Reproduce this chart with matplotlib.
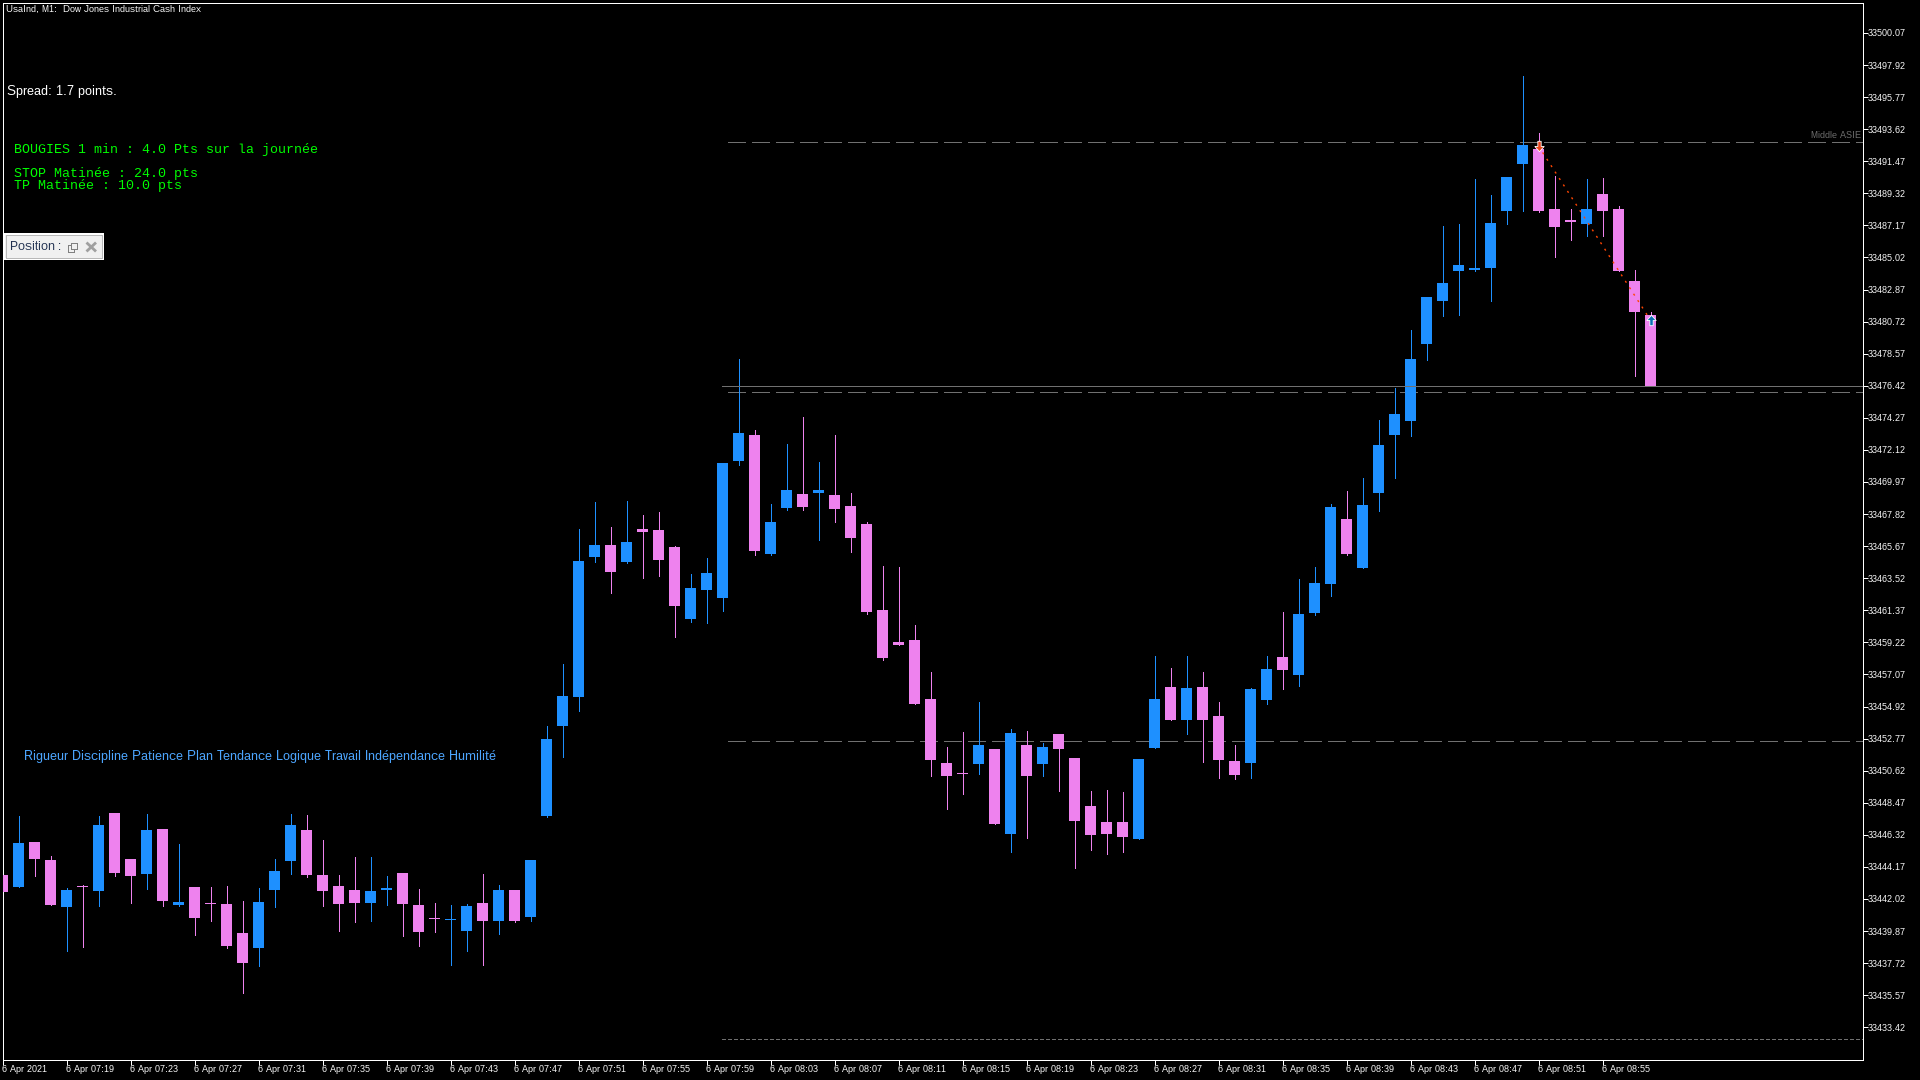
import matplotlib
matplotlib.use("Agg")
import matplotlib.pyplot as plt
from matplotlib.patches import Rectangle
from matplotlib.lines import Line2D
from matplotlib.path import Path
from matplotlib.transforms import Affine2D
import numpy as np

plt.rcParams["text.hinting"] = "native"
plt.rcParams["text.hinting_factor"] = 1

opens = [33443.63,33442.83,33445.84,33444.64,33441.49,33442.90,33442.56,33447.79,33444.70,33443.70,
33446.72,33441.62,33442.83,33441.76,33441.69,33439.75,33438.74,33442.63,33444.57,33446.65,
33443.63,33442.90,33442.63,33441.76,33442.63,33443.77,33441.62,33440.73,33440.64,33439.88,
33441.76,33440.55,33442.63,33440.82,33447.59,33453.62,33455.56,33464.95,33465.76,33464.60,
33466.82,33466.75,33465.62,33460.80,33462.73,33462.20,33471.39,33473.12,33465.16,33468.23,
33469.17,33469.24,33469.10,33468.37,33467.17,33461.40,33459.25,33459.39,33455.44,33451.15,
33450.48,33451.08,33452.07,33446.39,33452.35,33451.08,33453.09,33451.47,33448.26,33447.18,
33447.18,33446.05,33452.14,33456.23,33454.02,33456.23,33454.29,33451.27,33451.14,33455.36,
33458.24,33457.03,33461.19,33463.13,33467.49,33464.20,33469.23,33473.12,33474.06,33479.22,
33482.10,33484.11,33484.18,33484.31,33488.13,33491.28,33492.29,33488.26,33487.53,33487.26,
33489.27,33488.26,33483.44,33481.16]
closes = [33442.49,33445.78,33444.70,33441.62,33442.63,33442.85,33446.98,33443.77,33443.57,33446.65,
33441.89,33441.82,33440.75,33441.71,33438.87,33437.73,33441.82,33443.90,33446.98,33443.63,
33442.56,33441.69,33441.76,33442.56,33442.76,33441.69,33439.81,33440.68,33440.68,33441.55,
33440.55,33442.63,33440.55,33444.64,33452.74,33455.63,33464.67,33465.76,33463.93,33465.94,
33466.61,33464.74,33461.67,33462.87,33463.86,33471.25,33473.26,33465.34,33467.30,33469.43,
33468.30,33469.43,33468.16,33466.22,33461.26,33458.19,33459.04,33455.09,33451.33,33450.27,
33450.43,33452.35,33447.06,33453.16,33450.27,33452.21,33452.07,33447.25,33446.32,33446.39,
33446.19,33451.40,33455.44,33454.03,33456.16,33454.02,33451.34,33450.33,33456.10,33457.44,
33457.37,33461.12,33463.20,33468.29,33465.14,33468.42,33472.44,33474.52,33478.21,33482.37,
33483.30,33484.51,33484.31,33487.33,33490.41,33492.55,33488.13,33487.06,33487.39,33488.26,
33488.13,33484.11,33481.36,33476.40]
highs = [33443.63,33447.59,33445.84,33444.91,33442.76,33442.96,33447.59,33447.79,33444.70,33447.72,
33446.72,33445.71,33442.83,33442.83,33442.90,33441.89,33442.76,33444.70,33447.72,33447.65,
33445.98,33443.63,33444.84,33444.84,33443.57,33443.77,33442.69,33441.76,33441.62,33441.69,
33443.70,33442.96,33442.63,33444.64,33453.62,33457.77,33466.82,33468.64,33466.96,33468.71,
33467.77,33467.97,33465.69,33463.82,33464.88,33471.25,33478.22,33473.47,33468.50,33472.52,
33474.32,33471.32,33473.12,33469.24,33467.30,33464.35,33464.28,33460.38,33457.24,33452.21,
33453.23,33455.23,33452.07,33453.41,33453.29,33452.49,33453.09,33451.47,33449.26,33449.32,
33449.21,33451.40,33458.30,33457.52,33458.31,33457.23,33455.22,33452.34,33456.16,33458.31,
33461.26,33463.46,33464.27,33468.49,33469.36,33470.23,33474.12,33476.27,33480.15,33482.37,
33487.12,33487.26,33490.27,33489.20,33490.41,33497.18,33493.36,33490.48,33488.26,33490.27,
33490.34,33488.47,33484.18,33481.36]
lows = [33442.49,33442.83,33443.57,33441.62,33438.54,33438.81,33441.55,33443.57,33441.76,33442.69,
33441.55,33441.55,33439.61,33440.55,33438.74,33435.72,33437.53,33441.49,33443.70,33443.50,
33441.55,33439.88,33440.48,33440.55,33441.62,33439.54,33438.87,33439.81,33437.60,33438.54,
33437.60,33439.68,33440.48,33440.55,33447.52,33451.54,33454.63,33464.60,33462.53,33464.53,
33463.54,33463.68,33459.60,33460.59,33460.52,33461.33,33471.11,33465.09,33465.09,33468.09,
33468.09,33466.08,33467.30,33465.27,33461.12,33458.05,33459.04,33455.09,33450.27,33448.06,
33449.07,33450.41,33447.06,33445.17,33446.12,33450.27,33449.26,33444.11,33445.31,33445.03,
33445.17,33446.05,33452.14,33454.03,33453.08,33451.20,33450.13,33450.06,33450.13,33455.09,
33456.10,33456.30,33461.05,33462.32,33465.07,33464.20,33468.02,33470.24,33473.05,33478.14,
33481.09,33481.16,33484.11,33482.10,33487.26,33488.13,33488.06,33485.05,33486.19,33486.45,
33486.45,33484.11,33477.07,33476.40]

y_tick_values = [33433.42,33435.57,33437.72,33439.87,33442.02,33444.17,33446.32,33448.47,33450.62,33452.77,
33454.92,33457.07,33459.22,33461.37,33463.52,33465.67,33467.82,33469.97,33472.12,33474.27,
33476.42,33478.57,33480.72,33482.87,33485.02,33487.17,33489.32,33491.47,33493.62,33495.77,
33497.92,33500.07]
x_tick_bars = list(range(0, 101, 4))
x_tick_labels = ["6 Apr 2021","6 Apr 07:19","6 Apr 07:23","6 Apr 07:27","6 Apr 07:31","6 Apr 07:35",
"6 Apr 07:39","6 Apr 07:43","6 Apr 07:47","6 Apr 07:51","6 Apr 07:55","6 Apr 07:59","6 Apr 08:03",
"6 Apr 08:07","6 Apr 08:11","6 Apr 08:15","6 Apr 08:19","6 Apr 08:23","6 Apr 08:27","6 Apr 08:31",
"6 Apr 08:35","6 Apr 08:39","6 Apr 08:43","6 Apr 08:47","6 Apr 08:51","6 Apr 08:55"]

dashed_levels = [33492.74, 33475.98, 33452.60]
bid_level = 33476.42
dotted_level = 33432.62
trade_bars = [96, 103]
trade_prices = [33492.49, 33480.82]

BULL = "#1E90FF"
BEAR = "#EE82EE"
GREY = "#707070"
PX = 0.72
SANS = "Liberation Sans"
MONO = "Liberation Mono"

fig = plt.figure(figsize=(19.2, 10.8), dpi=100, facecolor="black")
ax = fig.add_axes([2.5/1920, (1080-1059.5)/1080, 1860/1920, 1057/1080], facecolor="black")
ax.set_xlim(0, 116.25)
ax.set_ylim(33431.26, 33502.11)

# level lines, behind the candles
for lvl in dashed_levels:
    ax.plot([45.35, 116.25], [lvl, lvl], color=GREY, lw=PX, dashes=(18, 6),
            dash_capstyle="butt", zorder=1, antialiased=False)
ax.plot([44.98, 116.25], [dotted_level, dotted_level], color=GREY, lw=PX, dashes=(3, 2.4),
        dash_capstyle="butt", zorder=1, antialiased=False)

x = np.arange(len(opens))
o, h, l, c = map(np.array, (opens, highs, lows, closes))
colors = np.where(c >= o, BULL, BEAR)
ax.vlines(x, l, h, colors=colors, lw=PX, zorder=2, antialiased=False)
ax.bar(x, np.abs(c-o), bottom=np.minimum(o, c), width=11/16, color=colors, lw=0, zorder=3, antialiased=False)

ax.plot([44.98, 116.25], [bid_level, bid_level], color=GREY, lw=PX, zorder=4, antialiased=False)
ax.plot(trade_bars, trade_prices, color="#FF4500", lw=1.0, dashes=(1.5, 4), dash_capstyle="butt", zorder=5)

down = Path([(-.45,0),(-.16,0),(-.16,.5),(.16,.5),(.16,0),(.45,0),(0,-.5),(-.45,0)])
up = Path([(-.45,0),(-.16,0),(-.16,-.5),(.16,-.5),(.16,0),(.45,0),(0,.5),(-.45,0)])
ax.plot(trade_bars[0], trade_prices[0], marker=down, ms=7.5, mfc="#E8431A", mec="white", mew=0.6, zorder=6, ls="none")
ax.plot(trade_bars[1], trade_prices[1], marker=up, ms=7.5, mfc="#0A6EB4", mec="white", mew=0.6, zorder=6, ls="none")

for s in ax.spines.values():
    s.set_color("white")
    s.set_linewidth(PX)
ax.yaxis.tick_right()
ax.set_yticks(y_tick_values)
ax.set_yticklabels([f"{v:.2f}" for v in y_tick_values], fontfamily=SANS, fontsize=6.4, color="white")
ax.set_xticks(x_tick_bars)
ax.set_xticklabels(x_tick_labels, fontfamily=SANS, fontsize=6.3, color="white", ha="left")
ax.tick_params(axis="y", length=3.6, width=PX, color="white", pad=0.3)
ax.tick_params(axis="x", length=3.6, width=PX, color="white", pad=0.5)

tf = Affine2D().scale(1, -1).translate(0, 1080)
def label(px, py, s, color="white", size=7, family=SANS, ha="left"):
    fig.text(px, py, s, transform=tf, color=color, fontsize=size, family=family, ha=ha, va="center")

label(6.5, 9.5, "UsaInd, M1:  Dow Jones Industrial Cash Index", size=6.3)
label(7, 92, "Spread: 1.7 points.", size=9.4)
label(13.5, 150, "BOUGIES 1 min : 4.0 Pts sur la journée", color="#00FF00", size=9.6, family=MONO)
label(13.5, 174, "STOP Matinée : 24.0 pts", color="#00FF00", size=9.6, family=MONO)
label(13.5, 186, "TP Matinée : 10.0 pts", color="#00FF00", size=9.6, family=MONO)
label(24, 756.5, "Rigueur Discipline Patience Plan Tendance Logique Travail Indépendance Humilité", color="#4DA6FF", size=9.3)
label(1861, 135.7, "Middle ASIE", color=GREY, size=6.5, ha="right")

fig.add_artist(Rectangle((4, 233.5), 99, 25.5, transform=tf, fc="#F0F0F0", ec="white", lw=1.4, antialiased=False))
fig.add_artist(Rectangle((5.5, 235), 96, 22.5, transform=tf, fc="#F0F0F0", ec="#B8B8B8", lw=PX, antialiased=False))
label(10, 247, "Position :", color="#1F2F4F", size=8.8)
fig.add_artist(Rectangle((67.5, 245), 6.5, 6.5, transform=tf, fc="none", ec="#808080", lw=PX, antialiased=False))
fig.add_artist(Rectangle((70.5, 242.5), 6.5, 6, transform=tf, fc="#F0F0F0", ec="#808080", lw=PX, antialiased=False))
for seg in ([(87.5, 243.5), (95, 250.5)], [(87.5, 250.5), (95, 243.5)]):
    fig.add_artist(Line2D(*zip(*seg), transform=tf, color="#A0A0A0", lw=2.0))

fig.savefig("out.png", dpi=100, facecolor="black")
